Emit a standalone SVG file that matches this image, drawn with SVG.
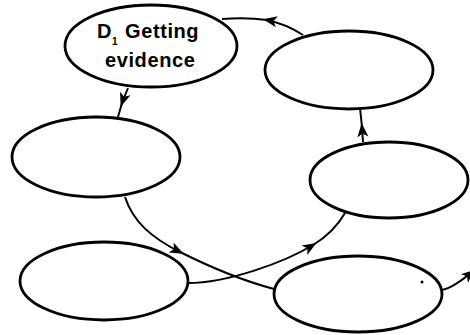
<svg xmlns="http://www.w3.org/2000/svg" width="470" height="335" viewBox="0 0 470 335">
  <style>
    .node ellipse { fill: #fff; stroke: #000; stroke-width: 2.8; }
    .edge { fill: none; stroke: #000; stroke-width: 2; }
    .label { font-family: "Liberation Sans", Arial, sans-serif; font-weight: bold; font-size: 20px; fill: #000; letter-spacing: 0.6px; }
    .sub { font-family: "Liberation Sans", Arial, sans-serif; font-weight: bold; font-size: 10px; fill: #000; }
  </style>
  <defs>
    <marker id="arrow" markerUnits="userSpaceOnUse" markerWidth="16" markerHeight="14" viewBox="-12 -7 16 14" refX="0" refY="0" orient="auto">
      <path d="M4,0 L-10,-5.5 L-6.5,0 L-10,5.5 Z" fill="#000"/>
    </marker>
  </defs>

  <rect width="470" height="335" fill="#fff"/>

  <!-- connectors -->
  <g id="connectors">
    <!-- evidence -> left middle -->
    <path class="edge" d="M128,88 L122,103 L118,117" marker-mid="url(#arrow)"/>
    <!-- top right -> evidence -->
    <path class="edge" d="M303,35 Q286,24 267,20 Q246,17 222,19" marker-mid="url(#arrow)"/>
    <!-- right middle -> top right -->
    <path class="edge" d="M363,142 L362,127 L360,108" marker-mid="url(#arrow)"/>
    <!-- left middle -> bottom right -->
    <path class="edge" d="M125,197 C133,222 152,238 180,252 C208,266 240,280 274,289" marker-mid="url(#arrow)"/>
    <!-- bottom left -> right middle -->
    <path class="edge" d="M188,283 C228,283 285,262 313,245 C328,236 338,225 345,213" marker-mid="url(#arrow)"/>
    <!-- bottom right -> out -->
    <path class="edge" d="M442,290 Q453,288 472,272" marker-end="url(#arrow)"/>
  </g>

  <!-- nodes -->
  <g id="node-evidence" class="node">
    <ellipse cx="151" cy="46" rx="86" ry="41"/>
    <text class="label" x="97" y="38">D</text>
    <text class="sub" x="112" y="45">1</text>
    <text class="label" x="125" y="38">Getting</text>
    <text class="label" x="105" y="67">evidence</text>
  </g>
  <g id="node-top-right" class="node">
    <ellipse cx="349" cy="70" rx="84" ry="39"/>
  </g>
  <g id="node-left-middle" class="node">
    <ellipse cx="96" cy="157" rx="84" ry="40"/>
  </g>
  <g id="node-right-middle" class="node">
    <ellipse cx="389" cy="180" rx="79" ry="38"/>
  </g>
  <g id="node-bottom-left" class="node">
    <ellipse cx="104" cy="281" rx="84" ry="39"/>
  </g>
  <g id="node-bottom-right" class="node">
    <ellipse cx="358" cy="294" rx="84" ry="38"/>
    <circle cx="422" cy="282" r="1.5" fill="#000"/>
  </g>
</svg>
